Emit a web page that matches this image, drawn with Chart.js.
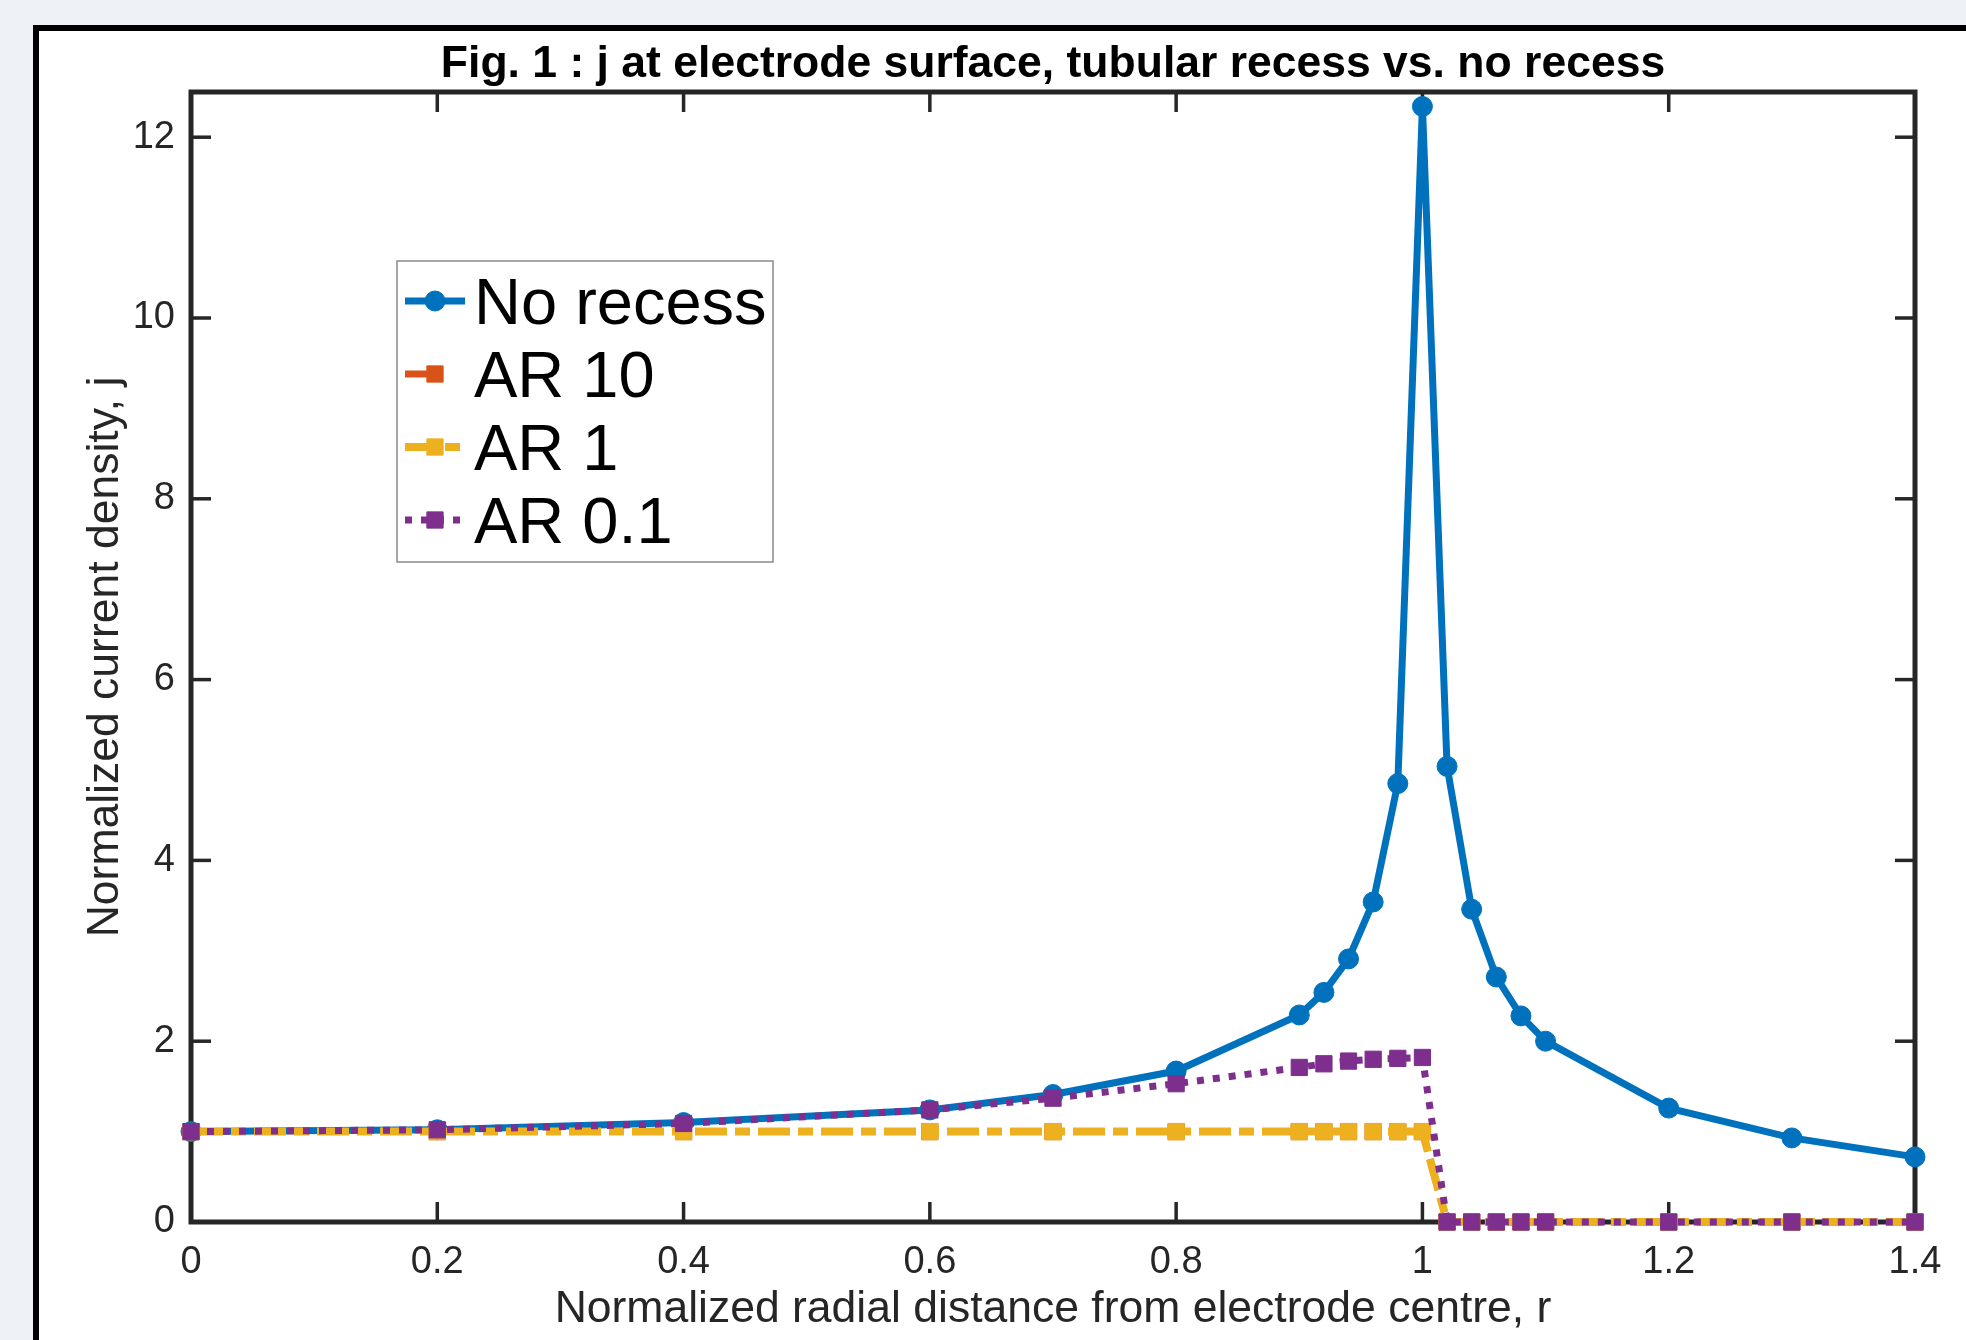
<!DOCTYPE html>
<html><head><meta charset="utf-8">
<script src="https://cdn.jsdelivr.net/npm/chart.js@4.4.1/dist/chart.umd.min.js"></script>
<style>
html,body{margin:0;padding:0;width:1966px;height:1340px;overflow:hidden;background:#eef1f5;}
#panel{position:absolute;left:33px;top:25px;width:2000px;height:1400px;background:#fff;border-left:6px solid #000;border-top:6px solid #000;}
#c{position:absolute;left:0;top:0;}
</style></head><body>
<div id="panel"></div>
<canvas id="c" width="1966" height="1340"></canvas>
<script>
// ---- data ----
const radialDistance = [0, 0.2, 0.4, 0.6, 0.7, 0.8, 0.9, 0.92, 0.94, 0.96, 0.98, 1.0, 1.02, 1.04, 1.06, 1.08, 1.1, 1.2, 1.3, 1.4];
const noRecess = [1.00, 1.02, 1.10, 1.24, 1.41, 1.67, 2.29, 2.54, 2.91, 3.54, 4.85, 12.34, 5.04, 3.46, 2.71, 2.28, 2.00, 1.26, 0.93, 0.72];
const ar10     = [1, 1, 1, 1, 1, 1, 1, 1, 1, 1, 1, 1, 0, 0, 0, 0, 0, 0, 0, 0];
const ar1      = [1, 1, 1, 1, 1, 1, 1, 1, 1, 1, 1, 1, 0, 0, 0, 0, 0, 0, 0, 0];
const ar01     = [1.00, 1.02, 1.09, 1.24, 1.37, 1.53, 1.71, 1.75, 1.78, 1.80, 1.81, 1.82, 0, 0, 0, 0, 0, 0, 0, 0];
const seriesNames = ['No recess', 'AR 10', 'AR 1', 'AR 0.1'];
const xTicks = [0, 0.2, 0.4, 0.6, 0.8, 1, 1.2, 1.4];
const yTicks = [0, 2, 4, 6, 8, 10, 12];
const titleText = 'Fig. 1 : j at electrode surface, tubular recess vs. no recess';
const xLabel = 'Normalized radial distance from electrode centre, r';
const yLabel = 'Normalized current density, j';

const FONT = '"Liberation Sans", Arial, Helvetica, sans-serif';
const AXIS = '#262626';
const pts = arr => arr.map((v, i) => ({x: radialDistance[i], y: v}));

Chart.defaults.font.family = FONT;
Chart.defaults.color = AXIS;

const axesBox = {
  id: 'axesBox',
  beforeDatasetsDraw(chart) {
    const {ctx, chartArea: {left, right, top, bottom}, scales: {x, y}} = chart;
    ctx.save();
    ctx.strokeStyle = AXIS;
    ctx.lineWidth = 3.5;
    const tl = 20;
    const seg = (a, b, c, d) => { ctx.beginPath(); ctx.moveTo(a, b); ctx.lineTo(c, d); ctx.stroke(); };
    x.ticks.forEach(t => { const p = x.getPixelForValue(t.value); seg(p, bottom, p, bottom - tl); seg(p, top, p, top + tl); });
    y.ticks.forEach(t => { const p = y.getPixelForValue(t.value); seg(left, p, left + tl, p); seg(right, p, right - tl, p); });
    ctx.lineWidth = 5;
    ctx.strokeRect(left, top, right - left, bottom - top);
    ctx.restore();
  }
};

const matlabLegend = {
  id: 'matlabLegend',
  afterDraw(chart) {
    const ctx = chart.ctx;
    const bx = 397, by = 261, bw = 376, bh = 301;
    const row0 = 301, step = 73, lx0 = 405, lx1 = 465, mx = 435, tx = 474;
    ctx.save();
    ctx.fillStyle = '#fff';
    ctx.fillRect(bx, by, bw, bh);
    ctx.strokeStyle = '#8a8a8a';
    ctx.lineWidth = 1.5;
    ctx.strokeRect(bx, by, bw, bh);
    chart.data.datasets.forEach((ds, i) => {
      const yy = row0 + i * step;
      ctx.strokeStyle = ds.borderColor;
      ctx.lineWidth = ds.borderWidth;
      ctx.setLineDash(ds.legendDash || ds.borderDash || []);
      ctx.beginPath(); ctx.moveTo(lx0, yy); ctx.lineTo(lx1, yy); ctx.stroke();
      ctx.setLineDash([]);
      ctx.fillStyle = ds.pointBackgroundColor;
      ctx.beginPath();
      if (ds.pointStyle === 'circle') {
        ctx.arc(mx, yy, ds.pointRadius, 0, Math.PI * 2);
      } else {
        const h = ds.pointRadius * Math.SQRT1_2;
        ctx.rect(mx - h, yy - h, 2 * h, 2 * h);
      }
      ctx.fill();
      ctx.lineWidth = 1;
      ctx.strokeStyle = ds.pointBorderColor;
      ctx.stroke();
      ctx.fillStyle = '#000';
      ctx.font = '65px ' + FONT;
      ctx.textBaseline = 'middle';
      ctx.textAlign = 'left';
      ctx.fillText(ds.label, tx, yy + 5);
    });
    ctx.restore();
  }
};

const mk = (label, data, color, width, dash, style, radius, order, legendDash) => ({
  label, data: pts(data), borderColor: color, backgroundColor: color, borderWidth: width,
  borderDash: dash, borderCapStyle: 'butt', borderJoinStyle: 'miter', legendDash,
  pointStyle: style, pointRadius: radius, pointHoverRadius: radius,
  pointBackgroundColor: color, pointBorderColor: color, pointBorderWidth: 1,
  tension: 0, fill: false, order, clip: false
});

new Chart(document.getElementById('c'), {
  type: 'line',
  data: {
    datasets: [
      mk(seriesNames[0], noRecess, '#0072BD', 7, [], 'circle', 10, 4),
      mk(seriesNames[1], ar10, '#D95319', 7, [32, 8, 15, 8], 'rect', 11.5, 3, [30, 40]),
      mk(seriesNames[2], ar1, '#EDB120', 8, [32, 8, 15, 8], 'rect', 11.5, 2),
      mk(seriesNames[3], ar01, '#7E2F8E', 7, [7, 9], 'rect', 11.5, 1)
    ]
  },
  options: {
    responsive: false,
    animation: false,
    events: [],
    layout: {padding: {left: 0, top: 0, right: 51, bottom: 0}},
    plugins: {
      legend: {display: false},
      tooltip: {enabled: false},
      title: {
        display: true, text: titleText, fullSize: false, color: '#000',
        font: {size: 44.5, weight: 'bold', family: FONT, lineHeight: 1.2},
        padding: {top: 38.5, bottom: 0.1}
      }
    },
    scales: {
      x: {
        type: 'linear', min: 0, max: 1.4,
        afterBuildTicks: s => { s.ticks = xTicks.map(v => ({value: v})); },
        afterFit: s => { s.height = 118; },
        grid: {display: false, drawTicks: false},
        border: {display: false},
        ticks: {padding: 17.5, color: AXIS, font: {size: 38}, maxRotation: 0, autoSkip: false,
                callback: v => String(+v.toFixed(1))},
        title: {display: true, text: xLabel, color: AXIS, font: {size: 44.5}, padding: {top: 0, bottom: 3.3}}
      },
      y: {
        type: 'linear', min: 0, max: 12.5,
        afterBuildTicks: s => { s.ticks = yTicks.map(v => ({value: v})); },
        afterFit: s => { s.width = 191; },
        grid: {display: false, drawTicks: false},
        border: {display: false},
        ticks: {padding: 16, color: AXIS, font: {size: 38}, autoSkip: false,
                callback: v => String(v)},
        title: {display: true, text: yLabel, color: AXIS, font: {size: 44.5}, padding: {top: 79.5, bottom: 0}}
      }
    }
  },
  plugins: [axesBox, matlabLegend]
});
</script>
</body></html>
